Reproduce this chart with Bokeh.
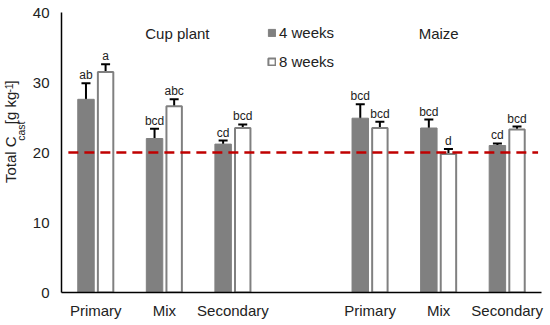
import math
from bokeh.plotting import figure
from bokeh.layouts import row
from bokeh.models import (ColumnDataSource, Whisker, TeeHead, FixedTicker, Label,
                          Legend, LegendItem, Range1d)
from bokeh.core.properties import value
from bokeh.embed import file_html
from bokeh.resources import INLINE

# ---------------- data ----------------
group_names = ["Cup plant", "Maize"]
categories = ["Primary", "Mix", "Secondary", "Primary", "Mix", "Secondary"]
slots = [0.5, 1.5, 2.5, 4.5, 5.5, 6.5]
w4_mean = [27.6, 22.0, 21.2, 24.9, 23.5, 21.0]
w4_err = [2.3, 1.4, 0.5, 2.0, 1.2, 0.3]
w8_mean = [31.5, 26.6, 23.5, 23.5, 19.8, 23.3]
w8_err = [1.1, 1.0, 0.5, 0.9, 0.7, 0.4]
w4_letters = ["ab", "bcd", "cd", "bcd", "bcd", "cd"]
w8_letters = ["a", "abc", "bcd", "bcd", "d", "bcd"]
series_names = ["4 weeks", "8 weeks"]
reference_level = 20
y_ticks = [0, 10, 20, 30, 40]
y_title_parts = ["Total C", "cast", " [g kg", "-1", "]"]

# ---------------- style ----------------
FONT = "Liberation Sans"
TXT = "#222222"
DARK = "#808080"
OFF = 0.143
LETTER_GAP = 1.15
LEFT_W = 28

def src(mean, err, letters, off):
    x = [s + off for s in slots]
    return ColumnDataSource(dict(
        x=x, top=mean,
        upper=[m + e for m, e in zip(mean, err)],
        lower=[m - e for m, e in zip(mean, err)],
        ly=[m + e + LETTER_GAP for m, e in zip(mean, err)],
        letters=letters))

s4 = src(w4_mean, w4_err, w4_letters, -OFF)
s8 = src(w8_mean, w8_err, w8_letters, OFF)

p = figure(width=550 - LEFT_W, height=325, x_range=(0, 7), y_range=(0, 40),
           output_backend="svg", toolbar_location=None,
           min_border_left=61 - LEFT_W, min_border_right=9, min_border_top=12,
           min_border_bottom=33)
p.outline_line_color = None
p.xgrid.visible = False
p.ygrid.visible = False
p.background_fill_color = "white"

r4 = p.vbar(x="x", top="top", bottom=0, width=0.24, source=s4,
            fill_color=DARK, line_color=DARK, line_width=1)
r8 = p.vbar(x="x", top="top", bottom=0, width=0.225, source=s8,
            fill_color="white", line_color=DARK, line_width=2)

for s in (s4, s8):
    wk = Whisker(source=s, base="x", upper="upper", lower="lower",
                 line_color="black", line_width=2,
                 upper_head=TeeHead(size=9, line_color="black", line_width=2),
                 lower_head=TeeHead(size=9, line_color="black", line_width=2))
    p.add_layout(wk)
    p.text(x="x", y="ly", text="letters", source=s, text_align="center",
           text_baseline="alphabetic", text_font=value(FONT),
           text_font_size="12px", text_color=TXT)

# reference dashed line
p.line(x=[0.1, 6.95], y=[reference_level, reference_level], line_color="#c00000",
       line_width=2.6, line_dash="10 6")

# axes
p.xaxis.ticker = FixedTicker(ticks=slots)
p.xaxis.major_label_overrides = {s: c for s, c in zip(slots, categories)}
p.yaxis.ticker = FixedTicker(ticks=y_ticks)
for ax in (p.xaxis[0], p.yaxis[0]):
    ax.major_tick_line_color = None
    ax.minor_tick_line_color = None
    ax.major_tick_out = 0
    ax.major_tick_in = 0
    ax.minor_tick_out = 0
    ax.minor_tick_in = 0
    ax.axis_line_color = "black"
    ax.axis_line_width = 1.5
    ax.major_label_text_font = FONT
    ax.major_label_text_font_size = "15px"
    ax.major_label_text_color = TXT
p.xaxis.major_label_standoff = 9
p.yaxis.major_label_standoff = 12

# group titles
for name, gx in zip(group_names, [1.69, 5.5]):
    p.add_layout(Label(x=gx, y=37.0, text=name, text_align="center",
                       text_baseline="middle", text_font=FONT,
                       text_font_size="15px", text_color=TXT))

# legend
legend = Legend(items=[LegendItem(label=series_names[0], renderers=[r4]),
                       LegendItem(label=series_names[1], renderers=[r8])],
                location=(206, 221), orientation="vertical",
                glyph_width=9, glyph_height=9, label_height=20, spacing=9,
                label_standoff=3, padding=0, margin=0,
                border_line_color=None, background_fill_alpha=0,
                label_text_font=FONT, label_text_font_size="15px",
                label_text_color=TXT)
p.add_layout(legend)

# ---------------- y-axis title strip (rotated, with sub/superscript) ----------------
q = figure(width=LEFT_W, height=325, x_range=Range1d(0, LEFT_W), y_range=Range1d(325, 0),
           output_backend="svg", toolbar_location=None,
           x_axis_location=None, y_axis_location=None, min_border=0)
q.outline_line_color = None
q.xgrid.visible = False
q.ygrid.visible = False

# pixel layout of the title pieces (x centre, y start, font size)
piece_x = [10, 20, 10, 8, 10]
piece_y = [198.0, 149.0, 129.7, 93.0, 83.7]
piece_fs = ["15px", "10.5px", "15px", "10.5px", "15px"]
tsrc = ColumnDataSource(dict(x=piece_x, y=piece_y, t=y_title_parts, fs=piece_fs))
q.text(x="x", y="y", text="t", source=tsrc, angle=math.pi / 2,
       text_align="left", text_baseline="middle", text_font=value(FONT),
       text_font_size="fs", text_color=TXT)

layout = row(q, p, spacing=0)
open("out.html", "w").write(file_html(layout, INLINE))
